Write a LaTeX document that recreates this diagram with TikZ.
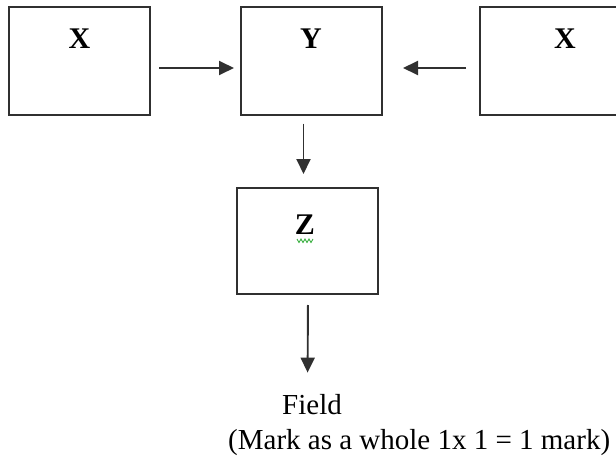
\documentclass[tikz,border=0pt]{standalone}
\usepackage{fontspec}
\setmainfont{Liberation Serif}
\usepackage{tikz}
\usetikzlibrary{arrows.meta,calc}
\definecolor{boxline}{HTML}{303030}
\definecolor{spellgreen}{HTML}{3CB043}

\begin{document}
\begin{tikzpicture}[
    x=1pt, y=-1pt,
    blk/.style={draw=boxline, line width=2pt, minimum width=141pt, minimum height=107pt, inner sep=0pt},
    lbl/.style={font=\fontsize{30}{34}\selectfont\bfseries, inner sep=0pt},
    txt/.style={font=\fontsize{29}{34}\selectfont, inner sep=0pt},
    arr/.style={-{Triangle[length=15pt,width=14pt]}, line width=1.9pt, draw=boxline}
]
\useasboundingbox (0,0) rectangle (616,460);
\node[blk] (xl) at (79.5,61) {};
\node[blk] (ybox) at (311.5,61) {};
\node[blk, minimum width=170pt] (xr) at (565,61) {};
\node[blk, minimum height=106pt] (zbox) at (307.5,241) {};

\node[lbl] (xltxt) at (79.5,39) {X};
\node[lbl] (ytxt) at (311,39) {Y};
\node[lbl] (xrtxt) at (565,39) {X};
\node[lbl] (ztxt) at (305,225) {Z};
\draw[spellgreen, line width=0.9pt] (297,239) -- (299,242.5) -- (301,239) -- (303,242.5) -- (305,239) -- (307,242.5) -- (309,239) -- (311,242.5) -- (313,239);

\node[txt] (field) at (312,405) {Field};
\node[txt, anchor=west] (note) at (228,443) {(Mark as a whole 1x 1 = 1 mark)};

\draw[arr, shorten <=8pt, shorten >=6pt] ([yshift=-7pt]xl.east) -- ([yshift=-7pt]ybox.west);
\draw[arr, shorten <=13pt, shorten >=20pt] ([yshift=-7pt]xr.west) -- ([yshift=-7pt]ybox.east);
\draw[arr, shorten <=8pt, shorten >=13pt] ([xshift=-8pt]ybox.south) -- ([xshift=-4pt]zbox.north);
\draw[arr, shorten <=10pt, shorten >=22pt] ([xshift=0.5pt]zbox.south) -- (zbox.south |- field.north);
\end{tikzpicture}
\end{document}
